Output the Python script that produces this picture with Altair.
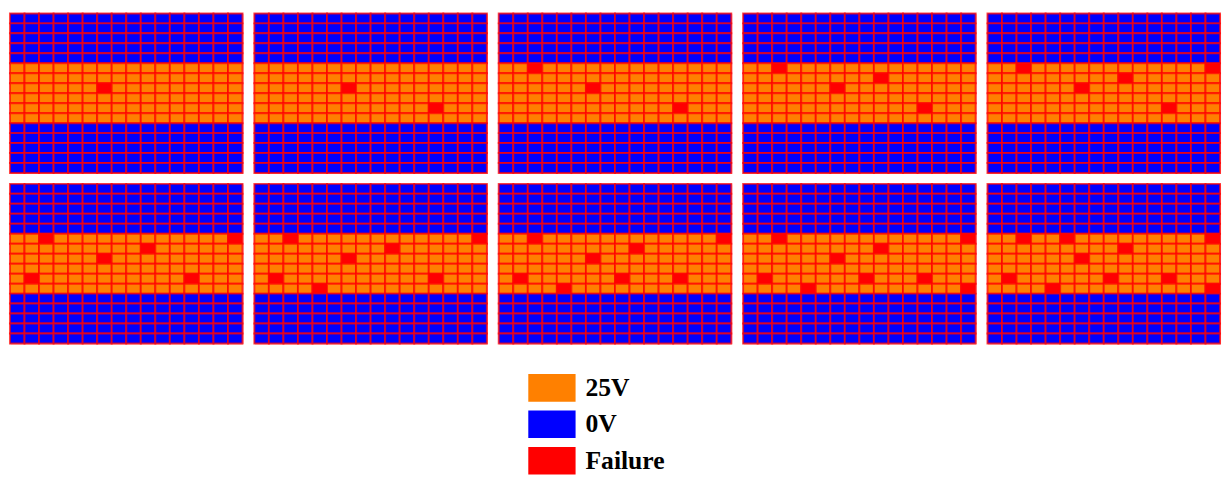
import altair as alt
import pandas as pd

# Grid: 16 columns x 16 rows per panel
n_cols = 16
row_states = ["0V"] * 5 + ["25V"] * 6 + ["0V"] * 5   # top to bottom
panels = list(range(1, 11))

# failure cells (column, row from top) and the first panel they appear in
fail_cols = [6, 12, 2, 9, 15, 1, 4, 8, 15, 5]
fail_rows = [7, 9, 5, 6, 5, 9, 10, 9, 10, 5]
fail_first = [1, 2, 3, 4, 5, 6, 7, 8, 9, 10]

legend_labels = ["25V", "0V", "Failure"]
legend_colors = ["#FF8000", "#0000FF", "#FF0000"]

records = []
for p in panels:
    fails = {(c, r) for c, r, f in zip(fail_cols, fail_rows, fail_first) if f <= p}
    for r, st in enumerate(row_states):
        for c in range(n_cols):
            state = "Failure" if (c, r) in fails else st
            records.append({"panel": p, "col": c, "row": r, "state": state})
df = pd.DataFrame(records)

color_enc = alt.Color(
    "state:N",
    scale=alt.Scale(domain=legend_labels, range=legend_colors),
    legend=alt.Legend(
        title=None,
        orient="none",
        legendX=536,
        legendY=366,
        direction="vertical",
        symbolType="M-1.714,-1H1.714V1H-1.714Z",
        symbolSize=784,
        symbolStrokeWidth=0,
        symbolOpacity=1,
        labelFont="Liberation Serif",
        labelFontWeight="bold",
        labelFontSize=26,
        labelColor="#000000",
        labelOffset=20,
        rowPadding=9,
    ),
)


def panel(p):
    return alt.Chart(df).transform_filter(
        alt.datum.panel == p
    ).mark_rect(
        stroke="#FF0000", strokeWidth=2, strokeOpacity=0.72
    ).encode(
        x=alt.X("col:O", axis=None, scale=alt.Scale(paddingInner=0, paddingOuter=0)),
        y=alt.Y("row:O", axis=None, scale=alt.Scale(paddingInner=0, paddingOuter=0)),
        color=color_enc,
    ).properties(width=236, height=162)


row1 = alt.hconcat(*[panel(p) for p in panels[:5]], spacing=8)
row2 = alt.hconcat(*[panel(p) for p in panels[5:]], spacing=8)

chart = alt.vconcat(row1, row2, spacing=7).resolve_scale(
    color="shared"
).configure_view(
    stroke="#FF9999", strokeWidth=1
).properties(padding=0, background="white")

chart.save("out.html", embed_options={"renderer": "svg", "actions": False})
